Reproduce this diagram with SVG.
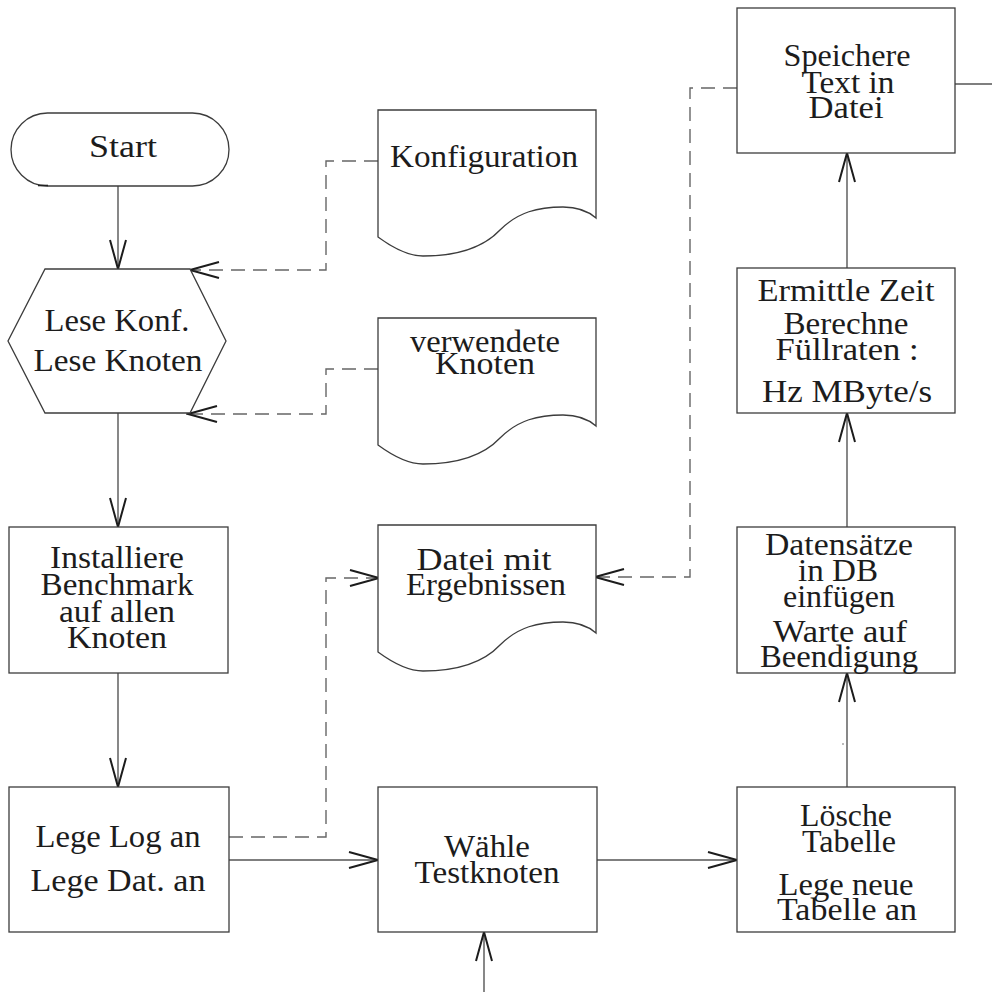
<svg xmlns="http://www.w3.org/2000/svg" width="992" height="992" viewBox="0 0 992 992">
  <style>
    .shape { fill: #ffffff; stroke: #3c3c3c; stroke-width: 1.3; }
    .line { fill: none; stroke: #555555; stroke-width: 1.4; }
    .dash { fill: none; stroke: #666666; stroke-width: 1.4; stroke-dasharray: 14 8; }
    text { font-family: "Liberation Serif", "Times New Roman", serif; font-size: 32px; fill: #1c1c1c; text-anchor: middle; }
  </style>
  <defs>
    <marker id="arr" viewBox="-31 -10 33 20" markerWidth="33" markerHeight="20" refX="0" refY="0" orient="auto" markerUnits="userSpaceOnUse">
      <path d="M-29,-8 L0,0 L-29,8" fill="none" stroke="#1c1c1c" stroke-width="2" stroke-dasharray="none"/>
    </marker>
    <!-- document symbol with wavy lower edge, 218 wide -->
    <path id="doc" d="M0,0 H218 V108 C210,101 200,97 185,97 C160,97 140,102 122,120 C105,138 80,146 45,146 C30,146 15,138 0,127 Z"/>
  </defs>

  <!-- connectors -->
  <g id="connectors">
    <path class="line" d="M118,186 V269" marker-end="url(#arr)"/>
    <path class="line" d="M118,413 V527" marker-end="url(#arr)"/>
    <path class="line" d="M118,673 V787" marker-end="url(#arr)"/>
    <path class="line" d="M229,860 H378" marker-end="url(#arr)"/>
    <path class="line" d="M597,860 H737" marker-end="url(#arr)"/>
    <path class="line" d="M484,992 V932" marker-end="url(#arr)"/>
    <path class="line" d="M847,787 V673" marker-end="url(#arr)"/>
    <path class="line" d="M847,527 V413" marker-end="url(#arr)"/>
    <path class="line" d="M847,268 V153" marker-end="url(#arr)"/>
    <path class="line" d="M955,84 H992"/>
    <path class="dash" d="M378,161 H326 V270 H190" marker-end="url(#arr)"/>
    <path class="dash" d="M378,369 H326 V414 H188" marker-end="url(#arr)"/>
    <path class="dash" d="M229,837 H326 V578 H379" marker-end="url(#arr)"/>
    <path class="dash" d="M737,88 H690 V577 H595" marker-end="url(#arr)"/>
    <circle cx="843" cy="744" r="0.7" fill="#444444"/>
  </g>

  <g id="start">
    <rect class="shape" x="11" y="113" width="218" height="73" rx="36.5" ry="36.5"/>
    <path d="M38,185.5 H48" stroke="#222222" stroke-width="1.6"/>
    <text x="123" y="157" textLength="68" lengthAdjust="spacingAndGlyphs">Start</text>
  </g>

  <g id="lese">
    <polygon class="shape" points="45,269 190,269 226,341 190,413 45,413 8,341"/>
    <text x="117" y="331" textLength="145" lengthAdjust="spacingAndGlyphs">Lese Konf.</text>
    <text x="118" y="371" textLength="169" lengthAdjust="spacingAndGlyphs">Lese Knoten</text>
  </g>

  <g id="konfiguration">
    <use href="#doc" class="shape" x="378" y="110"/>
    <text x="484" y="167" textLength="188" lengthAdjust="spacingAndGlyphs">Konfiguration</text>
  </g>

  <g id="verwendete-knoten">
    <use href="#doc" class="shape" x="378" y="318"/>
    <text x="485" y="352" textLength="150" lengthAdjust="spacingAndGlyphs">verwendete</text>
    <text x="485" y="374" textLength="100" lengthAdjust="spacingAndGlyphs">Knoten</text>
  </g>

  <g id="installiere">
    <rect class="shape" x="9" y="527" width="219" height="146"/>
    <text x="117" y="568" textLength="134" lengthAdjust="spacingAndGlyphs">Installiere</text>
    <text x="117" y="595" textLength="153" lengthAdjust="spacingAndGlyphs">Benchmark</text>
    <text x="117" y="622" textLength="116" lengthAdjust="spacingAndGlyphs">auf allen</text>
    <text x="117" y="648" textLength="100" lengthAdjust="spacingAndGlyphs">Knoten</text>
  </g>

  <g id="ergebnisdatei">
    <use href="#doc" class="shape" x="378" y="525"/>
    <text x="484" y="570" textLength="135" lengthAdjust="spacingAndGlyphs">Datei mit</text>
    <text x="486" y="595" textLength="160" lengthAdjust="spacingAndGlyphs">Ergebnissen</text>
  </g>

  <g id="lege-log">
    <rect class="shape" x="9" y="787" width="220" height="145"/>
    <text x="118" y="847" textLength="165" lengthAdjust="spacingAndGlyphs">Lege Log an</text>
    <text x="118" y="891" textLength="175" lengthAdjust="spacingAndGlyphs">Lege Dat. an</text>
  </g>

  <g id="waehle">
    <rect class="shape" x="378" y="787" width="219" height="145"/>
    <text x="487" y="857" textLength="86" lengthAdjust="spacingAndGlyphs">Wähle</text>
    <text x="487" y="883" textLength="145" lengthAdjust="spacingAndGlyphs">Testknoten</text>
  </g>

  <g id="loesche">
    <rect class="shape" x="737" y="787" width="218" height="145"/>
    <text x="846" y="826" textLength="92" lengthAdjust="spacingAndGlyphs">Lösche</text>
    <text x="849" y="852" textLength="94" lengthAdjust="spacingAndGlyphs">Tabelle</text>
    <text x="846" y="895" textLength="135" lengthAdjust="spacingAndGlyphs">Lege neue</text>
    <text x="847" y="920" textLength="140" lengthAdjust="spacingAndGlyphs">Tabelle an</text>
  </g>

  <g id="datensaetze">
    <rect class="shape" x="737" y="527" width="218" height="146"/>
    <text x="839" y="555" textLength="148" lengthAdjust="spacingAndGlyphs">Datensätze</text>
    <text x="838" y="581" textLength="80" lengthAdjust="spacingAndGlyphs">in DB</text>
    <text x="839" y="607" textLength="112" lengthAdjust="spacingAndGlyphs">einfügen</text>
    <text x="840" y="642" textLength="134" lengthAdjust="spacingAndGlyphs">Warte auf</text>
    <text x="839" y="667" textLength="158" lengthAdjust="spacingAndGlyphs">Beendigung</text>
  </g>

  <g id="ermittle">
    <rect class="shape" x="737" y="268" width="218" height="145"/>
    <text x="846" y="301" textLength="177" lengthAdjust="spacingAndGlyphs">Ermittle Zeit</text>
    <text x="846" y="334" textLength="125" lengthAdjust="spacingAndGlyphs">Berechne</text>
    <text x="847" y="360" textLength="143" lengthAdjust="spacingAndGlyphs">Füllraten :</text>
    <text x="847" y="402" textLength="170" lengthAdjust="spacingAndGlyphs">Hz MByte/s</text>
  </g>

  <g id="speichere">
    <rect class="shape" x="737" y="8" width="218" height="145"/>
    <text x="847" y="66" textLength="127" lengthAdjust="spacingAndGlyphs">Speichere</text>
    <text x="848" y="93" textLength="93" lengthAdjust="spacingAndGlyphs">Text in</text>
    <text x="846" y="118" textLength="75" lengthAdjust="spacingAndGlyphs">Datei</text>
  </g>
</svg>
